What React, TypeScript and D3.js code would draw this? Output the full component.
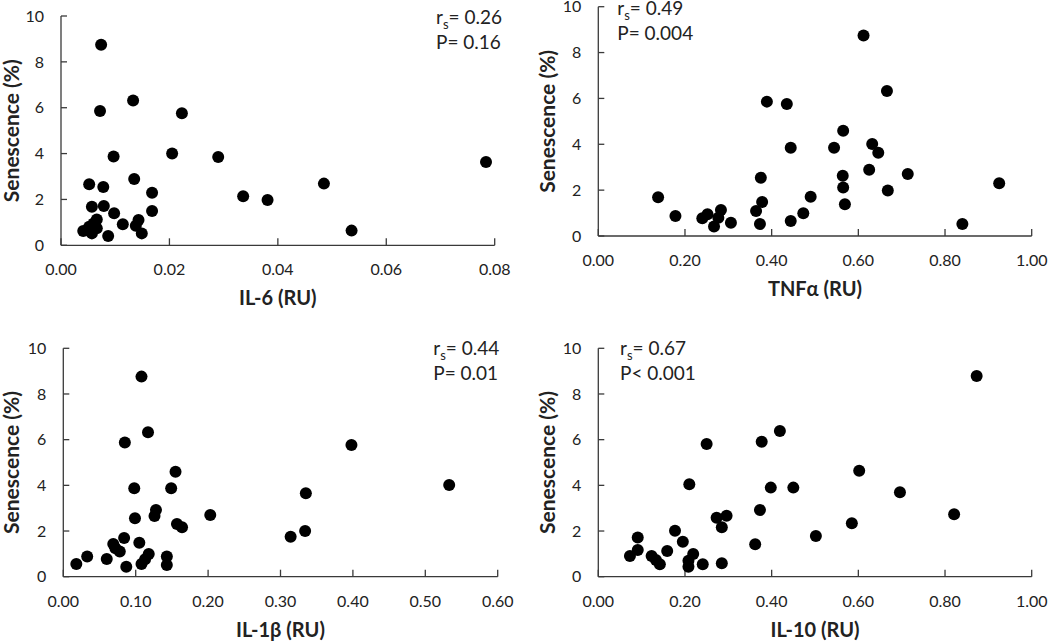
import React from "react";
import * as d3 from "d3";

// ---- Data ----
const il6X = [0.0074, 0.0133, 0.0072, 0.0223, 0.0097, 0.0205, 0.029, 0.0784, 0.0485, 0.0336, 0.0381, 0.0536, 0.0135, 0.0052, 0.0078, 0.0168, 0.0168, 0.0057, 0.0079, 0.0098, 0.0114, 0.0143, 0.0138, 0.0149, 0.0087, 0.0041, 0.0052, 0.0057, 0.0066, 0.0066, 0.006];
const il6Y = [8.75, 6.31, 5.86, 5.76, 3.87, 4.0, 3.85, 3.63, 2.69, 2.14, 1.98, 0.64, 2.89, 2.66, 2.54, 2.29, 1.5, 1.68, 1.71, 1.4, 0.92, 1.1, 0.85, 0.52, 0.41, 0.62, 0.81, 0.52, 1.13, 0.74, 0.95];

const tnfX = [0.612, 0.666, 0.389, 0.435, 0.565, 0.632, 0.646, 0.444, 0.544, 0.625, 0.714, 0.564, 0.375, 0.925, 0.565, 0.668, 0.138, 0.49, 0.378, 0.569, 0.364, 0.473, 0.178, 0.24, 0.252, 0.283, 0.277, 0.306, 0.267, 0.373, 0.444, 0.84];
const tnfY = [8.74, 6.32, 5.86, 5.76, 4.59, 4.01, 3.63, 3.85, 3.85, 2.89, 2.7, 2.63, 2.54, 2.3, 2.12, 1.98, 1.69, 1.71, 1.48, 1.38, 1.09, 0.99, 0.87, 0.77, 0.95, 1.13, 0.8, 0.58, 0.41, 0.52, 0.65, 0.52];

const il1bX = [0.108, 0.117, 0.085, 0.398, 0.155, 0.533, 0.098, 0.149, 0.335, 0.128, 0.126, 0.203, 0.099, 0.157, 0.164, 0.334, 0.314, 0.084, 0.105, 0.069, 0.078, 0.072, 0.118, 0.033, 0.06, 0.018, 0.087, 0.108, 0.113, 0.143, 0.143];
const il1bY = [8.76, 6.32, 5.88, 5.77, 4.6, 4.01, 3.87, 3.87, 3.65, 2.92, 2.66, 2.7, 2.56, 2.31, 2.16, 2.0, 1.75, 1.69, 1.49, 1.43, 1.1, 1.25, 0.99, 0.88, 0.78, 0.56, 0.44, 0.56, 0.76, 0.88, 0.51];

const il10X = [0.873, 0.419, 0.377, 0.25, 0.602, 0.21, 0.398, 0.45, 0.696, 0.373, 0.821, 0.296, 0.273, 0.285, 0.585, 0.177, 0.502, 0.091, 0.195, 0.362, 0.091, 0.159, 0.219, 0.073, 0.123, 0.133, 0.142, 0.208, 0.208, 0.241, 0.285];
const il10Y = [8.79, 6.38, 5.91, 5.81, 4.64, 4.05, 3.9, 3.9, 3.7, 2.92, 2.73, 2.67, 2.58, 2.16, 2.34, 2.01, 1.78, 1.72, 1.53, 1.42, 1.17, 1.13, 0.99, 0.91, 0.91, 0.73, 0.54, 0.7, 0.44, 0.54, 0.59];

const yTicks = [0, 2, 4, 6, 8, 10];
const il6Ticks = [0, 0.02, 0.04, 0.06, 0.08];
const tnfTicks = [0, 0.2, 0.4, 0.6, 0.8, 1.0];
const il1bTicks = [0, 0.1, 0.2, 0.3, 0.4, 0.5, 0.6];
const il10Ticks = [0, 0.2, 0.4, 0.6, 0.8, 1.0];

const xTitles = ["IL-6 (RU)", "TNFα (RU)", "IL-1β (RU)", "IL-10 (RU)"];
const yTitle = "Senescence (%)";
const rsValues = ["0.26", "0.49", "0.44", "0.67"];
const pValues = ["P= 0.16", "P= 0.004", "P= 0.01", "P< 0.001"];

const FONT = "Lato, Carlito, 'Open Sans', sans-serif";
const AXIS = "#3a3a3a";

type PanelProps = {
  xs: number[];
  ys: number[];
  xTicks: number[];
  box: { left: number; right: number; top: number; bottom: number };
  xTitle: string;
  rs: string;
  p: string;
  annX: number;
  annY: number;
  yTitleX: number;
};

function Panel({ xs, ys, xTicks, box, xTitle, rs, p, annX, annY, yTitleX }: PanelProps) {
  const x = d3.scaleLinear().domain([xTicks[0], xTicks[xTicks.length - 1]]).range([box.left, box.right]);
  const y = d3.scaleLinear().domain([0, 10]).range([box.bottom, box.top]);
  const fmt = d3.format(".2f");
  const cy = (box.top + box.bottom) / 2;
  const cx = (box.left + box.right) / 2;
  return (
    <g fontFamily={FONT}>
      {/* axes */}
      <line x1={box.left} x2={box.left} y1={box.top} y2={box.bottom} stroke={AXIS} strokeWidth={1.3} />
      <line x1={box.left} x2={box.right} y1={box.bottom} y2={box.bottom} stroke={AXIS} strokeWidth={1.3} />
      {yTicks.map((t) => (
        <g key={"y" + t}>
          <line x1={box.left} x2={box.left + 6} y1={y(t)} y2={y(t)} stroke={AXIS} strokeWidth={1.3} />
          <text x={box.left - 17} y={y(t)} dy="0.36em" textAnchor="end" fontSize={16} fill="#222">
            {t}
          </text>
        </g>
      ))}
      {xTicks.map((t) => (
        <g key={"x" + t}>
          <line x1={x(t)} x2={x(t)} y1={box.bottom} y2={box.bottom - 7} stroke={AXIS} strokeWidth={1.3} />
          <text x={x(t)} y={box.bottom + 30} textAnchor="middle" fontSize={16} fill="#222">
            {fmt(t)}
          </text>
        </g>
      ))}
      {/* titles */}
      <text x={cx} y={box.bottom + 60} textAnchor="middle" fontSize={20} fontWeight="bold" fill="#222">
        {xTitle}
      </text>
      <text
        transform={`translate(${yTitleX},${cy}) rotate(-90)`}
        textAnchor="middle"
        fontSize={21}
        fontWeight="bold"
        fill="#222"
      >
        {yTitle}
      </text>
      {/* points */}
      {xs.map((v, i) => (
        <circle key={i} cx={x(v)} cy={y(ys[i])} r={6} fill="#000" />
      ))}
      {/* annotation */}
      <text x={annX} y={annY} fontSize={19} fill="#222">
        r
        <tspan fontSize={13} dy={5}>
          s
        </tspan>
        <tspan dy={-5}>= {rs}</tspan>
      </text>
      <text x={annX} y={annY + 25} fontSize={19} fill="#222">
        {p}
      </text>
    </g>
  );
}

export default function App() {
  return (
    <svg
      width={1050}
      height={641}
      style={{ position: "absolute", left: 0, top: 0, background: "#fff" }}
    >
      <rect width={1050} height={641} fill="#fff" />
      <Panel
        xs={il6X}
        ys={il6Y}
        xTicks={il6Ticks}
        box={{ left: 61, right: 494.7, top: 16, bottom: 245.3 }}
        xTitle={xTitles[0]}
        rs={rsValues[0]}
        p={pValues[0]}
        annX={436}
        annY={23.5}
        yTitleX={19}
      />
      <Panel
        xs={tnfX}
        ys={tnfY}
        xTicks={tnfTicks}
        box={{ left: 598.3, right: 1031.7, top: 6.7, bottom: 236 }}
        xTitle={xTitles[1]}
        rs={rsValues[1]}
        p={pValues[1]}
        annX={617.3}
        annY={14.5}
        yTitleX={555}
      />
      <Panel
        xs={il1bX}
        ys={il1bY}
        xTicks={il1bTicks}
        box={{ left: 63.3, right: 497.7, top: 348.3, bottom: 576.7 }}
        xTitle={xTitles[2]}
        rs={rsValues[2]}
        p={pValues[2]}
        annX={433.3}
        annY={354.5}
        yTitleX={19}
      />
      <Panel
        xs={il10X}
        ys={il10Y}
        xTicks={il10Ticks}
        box={{ left: 598.3, right: 1031.7, top: 348.3, bottom: 576.7 }}
        xTitle={xTitles[3]}
        rs={rsValues[3]}
        p={pValues[3]}
        annX={620}
        annY={354.5}
        yTitleX={555}
      />
    </svg>
  );
}
